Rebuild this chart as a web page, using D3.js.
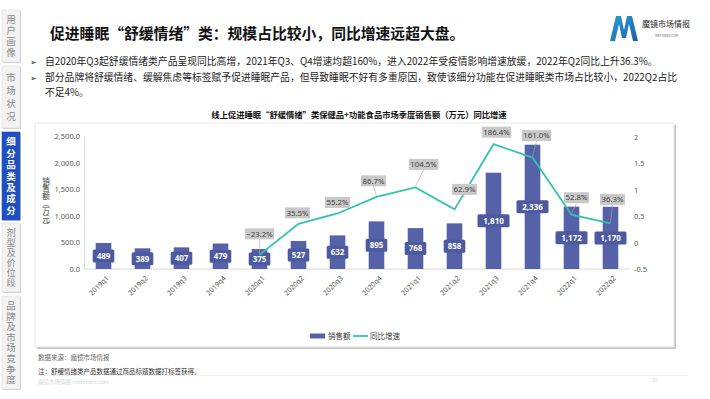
<!DOCTYPE html>
<html>
<head>
<meta charset="utf-8">
<script src="https://cdn.jsdelivr.net/npm/d3@7"></script>
<style>
  body { margin: 0; background: #fff; }
  svg { display: block; font-family: "Noto Sans CJK SC", "Noto Sans", sans-serif; }
  .vert { writing-mode: vertical-rl; text-orientation: mixed; }
</style>
</head>
<body>
<svg width="710" height="399"></svg>
<script>
const svg_ = d3.select('svg');

// data
const quarters = ["2019q1","2019q2","2019q3","2019q4","2020q1","2020q2","2020q3","2020q4",
                  "2021q1","2021q2","2021q3","2021q4","2022q1","2022q2"];
const sales = [489, 389, 407, 479, 375, 527, 632, 895, 768, 858, 1810, 2336, 1172, 1170];
const growth = [null, null, null, null, -0.232, 0.355, 0.552, 0.867, 1.045, 0.629, 1.864, 1.610, 0.528, 0.363];
const leftTicks = [0, 500, 1000, 1500, 2000, 2500];
const rightTicks = [-0.5, 0, 0.5, 1, 1.5, 2];
const tabs = ["用户画像", "市场状况", "细分品类及成分", "剂型及价位段", "品牌及市场竞争度"];
const activeTab = 2;

const TITLE = "促进睡眠“舒缓情绪”类：规模占比较小，同比增速远超大盘。";
const BULLETS = [
    ["自2020年Q3起舒缓情绪类产品呈现同比高增，2021年Q3、Q4增速均超160%，进入2022年受疫情影响增速放缓，2022年Q2同比上升36.3%。"],
    ["部分品牌将舒缓情绪、缓解焦虑等标签赋予促进睡眠产品，但导致睡眠不好有多重原因，致使该细分功能在促进睡眠类市场占比较小，2022Q2占比", "不足4%。"]
];
const CHART_TITLE = "线上促进睡眠“舒缓情绪”类保健品+功能食品市场季度销售额（万元）同比增速";
const Y_TITLE = "销售额（万元）";

// layout
const DIMS = {
    LEFT: 84, RIGHT: 630, TOP: 136, BOTTOM: 269,
    BAR: "#5562a8", LABEL_BOX: "#4d5aa0", LINE: "#2fc4b0"
};
// nudges for the percent labels (dx, dy from the point)
const labelNudge = [null, null, null, null, [0,-21], [-1,-11], [0,-11], [-3,-16], [8,-23],
                    [10,-20], [3,-12], [4,-22], [5,-17], [2,-24]];
const tabSpans = [[10, 62], [66, 128], [132, 220], [223, 292], [296, 389]];

// ---------- sidebar ----------
const side = svg_.append("g");
tabs.forEach((t, i) => {
    const [y0, y1] = tabSpans[i];
    const active = i === activeTab;
    side.append("rect")
        .attr("x", 3).attr("y", y0 + 1).attr("width", 18).attr("height", y1 - y0)
        .attr("fill", "#d0d0d0");
    side.append("rect")
        .attr("x", 2).attr("y", y0).attr("width", 18).attr("height", y1 - y0)
        .attr("fill", active ? "#1f50c2" : "#f3f3f3")
        .attr("stroke", active ? "#1f50c2" : "#dcdcdc").attr("stroke-width", 0.6);
    const n = [...t].length;
    const step = Math.min(13, (y1 - y0 - 8) / n);
    const fs = Math.min(9.5, step - 1);
    side.append("text")
        .attr("class", "vert")
        .attr("x", 11).attr("y", (y0 + y1) / 2 + (step - fs) / 2)
        .attr("text-anchor", "middle")
        .attr("font-size", fs)
        .attr("letter-spacing", step - fs)
        .attr("font-weight", active ? "bold" : "normal")
        .attr("fill", active ? "#fff" : "#8a8a8a")
        .text(t);
});

// ---------- header ----------
svg_.append("text")
    .attr("x", 50).attr("y", 39)
    .attr("font-size", 14.8).attr("font-weight", "bold").attr("fill", "#111")
    .text(TITLE);

const logo = svg_.append("g").attr("transform", "translate(610,14)");
const grad = svg_.append("defs").append("linearGradient").attr("id", "lg")
    .attr("x1", 0).attr("x2", 1).attr("y1", 0).attr("y2", 1);
grad.append("stop").attr("offset", 0).attr("stop-color", "#2a9fd6");
grad.append("stop").attr("offset", 1).attr("stop-color", "#1b5fa8");
logo.append("path")
    .attr("d", "M0,27 L6,2 L11,2 L14,16 L17,2 L22,2 L28,27 L23,27 L19,10 L16,24 L12,24 L9,10 L5,27 Z")
    .attr("fill", "url(#lg)");
logo.append("text").attr("x", 32).attr("y", 13)
    .attr("font-size", 8).attr("fill", "#222").text("魔镜市场情报");
logo.append("text").attr("x", 45).attr("y", 23)
    .attr("font-size", 3.2).attr("fill", "#666").text("MKTINDEX.COM");

// bullets
let ly = 65;
BULLETS.forEach(lines => {
    svg_.append("text").attr("x", 30).attr("y", ly)
        .attr("font-size", 8).attr("fill", "#222").text("➢");
    lines.forEach(l => {
        svg_.append("text").attr("x", 45).attr("y", ly)
            .attr("font-size", 9.8).attr("fill", "#222").text(l);
        ly += 15.5;
    });
});

// ---------- chart panel ----------
svg_.append("rect")
    .attr("x", 36).attr("y", 124).attr("width", 639).attr("height", 224)
    .attr("fill", "#c8c8c8").attr("transform", "translate(1,1)");
svg_.append("rect")
    .attr("x", 35).attr("y", 123).attr("width", 639).attr("height", 224)
    .attr("fill", "#fff").attr("stroke", "#e2e2e2").attr("stroke-width", 0.8);

svg_.append("text")
    .attr("x", 359).attr("y", 118)
    .attr("text-anchor", "middle")
    .attr("font-size", 8.3).attr("font-weight", "bold").attr("fill", "#111")
    .text(CHART_TITLE);

const x = d3.scaleBand().domain(quarters)
    .range([DIMS.LEFT, DIMS.RIGHT]).paddingInner(0.6).paddingOuter(0.3);
const yL = d3.scaleLinear().domain([0, 2500]).range([DIMS.BOTTOM, DIMS.TOP]);
const yR = d3.scaleLinear().domain([-0.5, 2]).range([DIMS.BOTTOM, DIMS.TOP + 1]);

// axes
const axL = svg_.append("g")
    .attr("transform", `translate(${DIMS.LEFT},0)`)
    .call(d3.axisLeft(yL).tickValues(leftTicks).tickFormat(d3.format(",.1f")).tickSize(0).tickPadding(4));
axL.select(".domain").attr("stroke", "#d9d9d9");
axL.selectAll("text").attr("font-size", 7.5).attr("fill", "#595959").attr("font-family", "Noto Sans");

const axR = svg_.append("g")
    .attr("transform", `translate(${DIMS.RIGHT},0)`)
    .call(d3.axisRight(yR).tickValues(rightTicks).tickFormat(d => d).tickSize(0).tickPadding(4));
axR.select(".domain").remove();
axR.selectAll("text").attr("font-size", 7.5).attr("fill", "#595959").attr("font-family", "Noto Sans");

svg_.append("line")
    .attr("x1", DIMS.LEFT).attr("x2", DIMS.RIGHT)
    .attr("y1", DIMS.BOTTOM).attr("y2", DIMS.BOTTOM)
    .attr("stroke", "#d9d9d9");

// x labels
svg_.append("g").selectAll("text").data(quarters).join("text")
    .attr("transform", d => `translate(${x(d) + x.bandwidth() / 2 + 4},${DIMS.BOTTOM + 8}) rotate(-45)`)
    .attr("text-anchor", "end")
    .attr("dy", "0.35em")
    .attr("font-size", 7).attr("fill", "#595959").attr("font-family", "Noto Sans")
    .text(d => d);

// y title (vertical)
svg_.append("text")
    .attr("class", "vert")
    .attr("x", 46).attr("y", 177)
    .attr("font-size", 7.6).attr("fill", "#404040")
    .text(Y_TITLE);

// bars
svg_.append("g").selectAll("rect").data(sales).join("rect")
    .attr("x", (d, i) => x(quarters[i]))
    .attr("y", d => yL(d))
    .attr("width", x.bandwidth())
    .attr("height", d => DIMS.BOTTOM - yL(d))
    .attr("fill", DIMS.BAR);

const barLab = svg_.append("g").selectAll("g").data(sales).join("g")
    .attr("transform", (d, i) => `translate(${x(quarters[i]) + x.bandwidth() / 2},${(yL(d) + DIMS.BOTTOM) / 2})`);
barLab.append("rect")
    .attr("x", d => -(String(d3.format(",")(d)).length * 2.6 + 3))
    .attr("width", d => String(d3.format(",")(d)).length * 5.2 + 6)
    .attr("y", -6.5).attr("height", 13).attr("rx", 1.5)
    .attr("fill", DIMS.LABEL_BOX);
barLab.append("text")
    .attr("text-anchor", "middle").attr("dy", "0.36em")
    .attr("font-size", 8).attr("font-weight", "bold").attr("fill", "#fff")
    .attr("font-family", "Noto Sans")
    .text(d3.format(","));

// line
const pts = growth.map((g, i) => ({ q: quarters[i], g, i })).filter(d => d.g !== null);
svg_.append("path")
    .datum(pts)
    .attr("fill", "none")
    .attr("stroke", DIMS.LINE).attr("stroke-width", 1.8)
    .attr("d", d3.line().x(d => x(d.q) + x.bandwidth() / 2).y(d => yR(d.g)));

// percent labels
const pctLab = svg_.append("g").selectAll("g").data(pts).join("g");
pctLab.each(function (d) {
    const g = d3.select(this);
    const px = x(d.q) + x.bandwidth() / 2, py = yR(d.g);
    const [dx, dy] = labelNudge[d.i];
    const txt = d3.format(".1%")(d.g);
    const w = txt.length * 4.4 + 3;
    if (dy < -14) {
        g.append("line")
            .attr("x1", px + dx).attr("y1", py + dy + 5.5)
            .attr("x2", px).attr("y2", py - 1)
            .attr("stroke", "#a6a6a6").attr("stroke-width", 0.6);
    }
    g.append("rect")
        .attr("x", px + dx - w / 2).attr("y", py + dy - 5.5)
        .attr("width", w).attr("height", 11)
        .attr("fill", "#c9c9c9");
    g.append("text")
        .attr("x", px + dx).attr("y", py + dy)
        .attr("text-anchor", "middle").attr("dy", "0.35em")
        .attr("font-size", 7.8).attr("fill", "#404040").attr("font-family", "Noto Sans")
        .text(txt);
});

// legend
const leg = svg_.append("g").attr("transform", "translate(310,336)");
leg.append("rect").attr("x", 0).attr("y", -2.5).attr("width", 15).attr("height", 5).attr("fill", DIMS.BAR);
leg.append("text").attr("x", 18).attr("dy", "0.35em").attr("font-size", 7.5).attr("fill", "#404040").text("销售额");
leg.append("line").attr("x1", 43).attr("x2", 58).attr("stroke", DIMS.LINE).attr("stroke-width", 1.8);
leg.append("text").attr("x", 60).attr("dy", "0.35em").attr("font-size", 7.5).attr("fill", "#404040").text("同比增速");

// ---------- footer ----------
svg_.append("text").attr("x", 38).attr("y", 360)
    .attr("font-size", 6.5).attr("fill", "#666").text("数据来源：魔镜市场情报");
svg_.append("text").attr("x", 38).attr("y", 374)
    .attr("font-size", 6.5).attr("fill", "#333").text("注：舒缓情绪类产品数据通过商品标题数据打标签获得。");
svg_.append("line").attr("x1", 38).attr("x2", 688).attr("y1", 375.5).attr("y2", 375.5)
    .attr("stroke", "#eeeeee").attr("stroke-width", 0.8);
svg_.append("text").attr("x", 38).attr("y", 384)
    .attr("font-size", 5.5).attr("fill", "#d6d6d6").text("魔镜市场情报  mktindex.com");
svg_.append("text").attr("x", 652).attr("y", 382)
    .attr("font-size", 5.5).attr("fill", "#d6d6d6").text("10");
</script>
</body>
</html>
